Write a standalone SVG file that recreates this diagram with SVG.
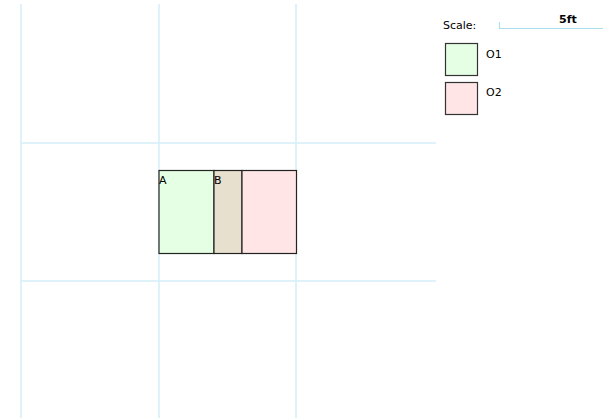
<svg xmlns="http://www.w3.org/2000/svg" width="609" height="419" viewBox="0 0 609 419">
<style>
.grid{stroke:#d4eef8;stroke-width:1.5;fill:none}
.box{stroke:#222;stroke-width:1.2}
.t{font-family:"DejaVu Sans",sans-serif;font-size:11px;fill:#000}
</style>
<rect width="609" height="419" fill="#fff"/>
<g id="grid">
<line class="grid" x1="21" y1="4" x2="21" y2="418"/>
<line class="grid" x1="159" y1="4" x2="159" y2="418"/>
<line class="grid" x1="296" y1="4" x2="296" y2="418"/>
<line class="grid" x1="21" y1="143" x2="436" y2="143"/>
<line class="grid" x1="21" y1="281" x2="436" y2="281"/>
</g>
<g id="A">
<rect class="box" x="159" y="170.5" width="55" height="83" fill="#e5ffe5"/>
<text class="t" x="159" y="184">A</text>
</g>
<g id="B">
<rect class="box" x="214" y="170.5" width="28" height="83" fill="#e8e0ce" stroke="#554"/>
<text class="t" x="214" y="184">B</text>
</g>
<g id="O2area">
<rect class="box" x="242" y="170.5" width="54.5" height="83" fill="#ffe5e5"/>
</g>
<g id="legend">
<text class="t" x="443" y="29">Scale:</text>
<path d="M499.5 22 V28.5 H603" stroke="#aadff0" stroke-width="1.2" fill="none"/>
<text class="t" x="559" y="23" font-weight="bold">5ft</text>
<rect x="445.5" y="43.5" width="32" height="32" fill="#e5ffe5" stroke="#333" stroke-width="1.2"/>
<text class="t" x="486" y="58">O1</text>
<rect x="445.5" y="82.5" width="32" height="32" fill="#ffe5e5" stroke="#333" stroke-width="1.2"/>
<text class="t" x="486" y="96">O2</text>
</g>
</svg>
